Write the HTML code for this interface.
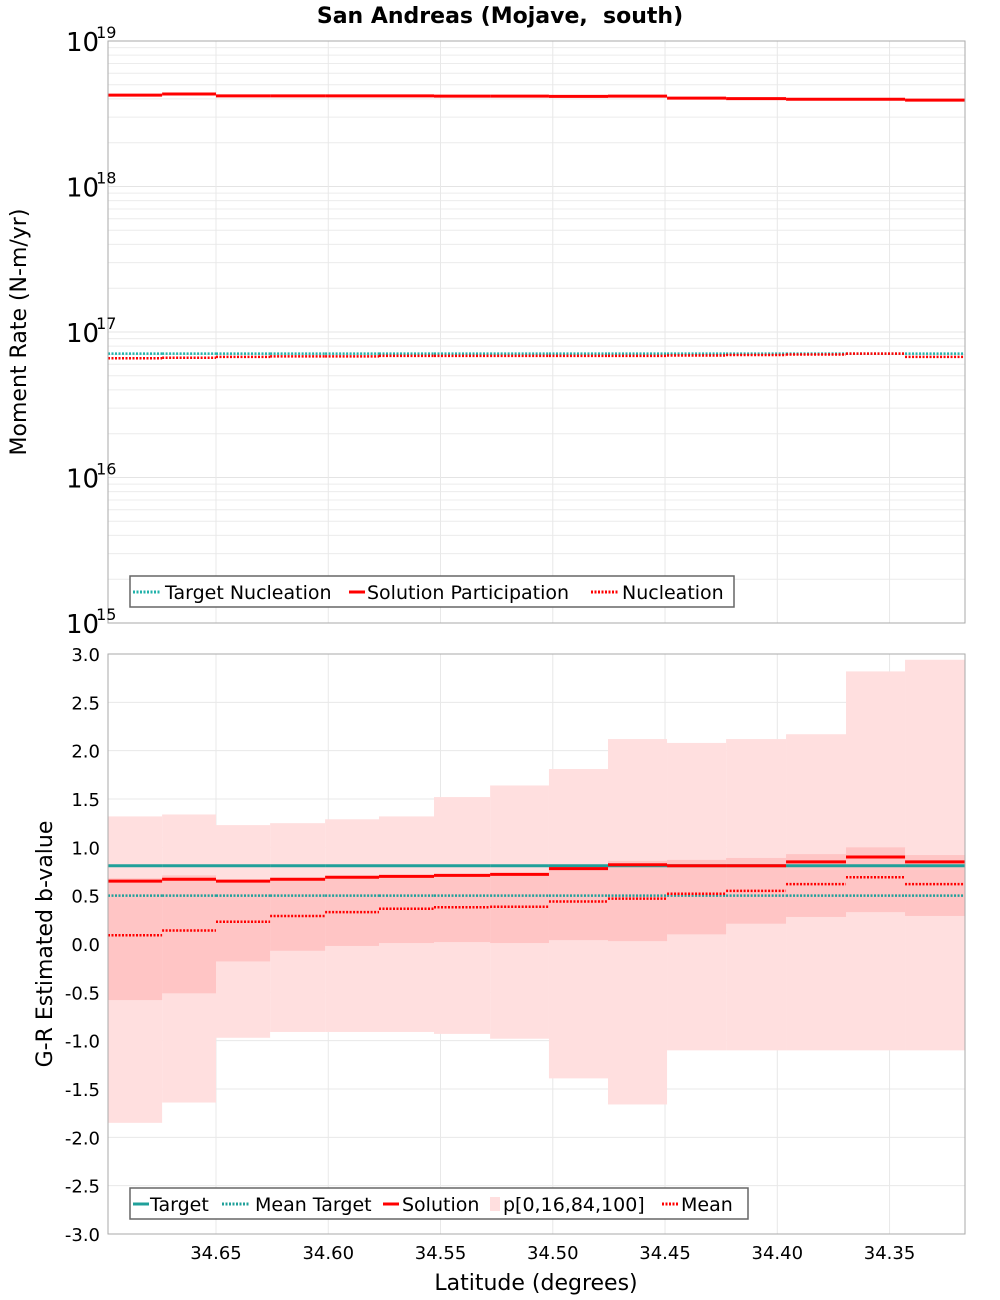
<!DOCTYPE html>
<html><head><meta charset="utf-8">
<style>
html,body{margin:0;padding:0;background:#fff;}
svg{display:block;font-family:"DejaVu Sans","Liberation Sans",sans-serif;}
</style></head>
<body>
<svg id="chart" width="1000" height="1300" viewBox="0 0 1000 1300" xmlns="http://www.w3.org/2000/svg">
<rect width="1000" height="1300" fill="#fff"/>
<text x="500" y="23" text-anchor="middle" font-size="22" font-weight="bold" style="white-space:pre">San Andreas (Mojave,  south)</text>
<g id="topPlot"></g>
<g id="botPlot"></g>
<text transform="translate(26,332) rotate(-90)" text-anchor="middle" font-size="22">Moment Rate (N-m/yr)</text>
<text transform="translate(52,944) rotate(-90)" text-anchor="middle" font-size="22">G-R Estimated b-value</text>
<text x="536" y="1290" text-anchor="middle" font-size="22">Latitude (degrees)</text>
</svg>
<script>
// ---- data ----
const binEdges = [34.6981,34.6740,34.6500,34.6259,34.6014,34.5774,34.5529,34.5279,34.5017,34.4754,34.4491,34.4228,34.3961,34.3694,34.3431,34.3164];
const xTicks = [34.65,34.60,34.55,34.50,34.45,34.40,34.35];
const xTickLabels = ["34.65","34.60","34.55","34.50","34.45","34.40","34.35"];
const targetNucleation = [7.1e16,7.1e16,7.1e16,7.1e16,7.1e16,7.1e16,7.1e16,7.1e16,7.1e16,7.1e16,7.1e16,7.1e16,7.1e16,7.1e16,7.1e16];
const solutionParticipation = [4.25e18,4.32e18,4.2e18,4.2e18,4.2e18,4.2e18,4.18e18,4.18e18,4.16e18,4.18e18,4.05e18,4.02e18,3.98e18,3.98e18,3.92e18];
const nucleation = [6.6e16,6.65e16,6.75e16,6.8e16,6.8e16,6.85e16,6.85e16,6.85e16,6.85e16,6.85e16,6.9e16,6.95e16,7.0e16,7.1e16,6.75e16];
const topDecades = [15,16,17,18,19];
const bTarget = [0.81,0.81,0.81,0.81,0.81,0.81,0.81,0.81,0.81,0.81,0.81,0.81,0.81,0.81,0.81];
const bMeanTarget = [0.50,0.50,0.50,0.50,0.50,0.50,0.50,0.50,0.50,0.50,0.50,0.50,0.50,0.50,0.50];
const bSolution = [0.65,0.67,0.65,0.67,0.69,0.70,0.71,0.72,0.78,0.82,0.81,0.81,0.85,0.90,0.85];
const bMean = [0.09,0.14,0.23,0.29,0.33,0.365,0.38,0.385,0.44,0.47,0.52,0.55,0.62,0.69,0.62];
const bP0 = [-1.85,-1.64,-0.97,-0.91,-0.91,-0.91,-0.93,-0.98,-1.39,-1.66,-1.10,-1.10,-1.10,-1.10,-1.10];
const bP16 = [-0.58,-0.51,-0.18,-0.07,-0.02,0.01,0.02,0.01,0.04,0.03,0.10,0.21,0.28,0.33,0.29];
const bP84 = [0.68,0.71,0.66,0.68,0.70,0.71,0.72,0.73,0.80,0.86,0.87,0.89,0.93,1.00,0.92];
const bP100 = [1.32,1.34,1.23,1.25,1.29,1.32,1.52,1.64,1.81,2.12,2.08,2.12,2.17,2.82,2.94];
const bTicks = [3.0,2.5,2.0,1.5,1.0,0.5,0.0,-0.5,-1.0,-1.5,-2.0,-2.5,-3.0];

// ---- axes ----
const L=108,R=965,LAT0=34.6981,LAT1=34.3164;
const T1=41,B1=623,T2=654,B2=1234;
const NS="http://www.w3.org/2000/svg";
function xS(lat){return L+(LAT0-lat)/(LAT0-LAT1)*(R-L);}
function yTop(v){return B1-(Math.log10(v)-15)/4*(B1-T1);}
function yBot(v){return B2-(v+3)/6*(B2-T2);}
function mk(parent,tag,attrs){const e=document.createElementNS(NS,tag);for(const k in attrs)e.setAttribute(k,attrs[k]);parent.appendChild(e);return e;}
const topG=document.getElementById('topPlot'), botG=document.getElementById('botPlot');

// top grid
for(let d=15;d<19;d++){for(let m=1;m<10;m++){const yy=yTop(m*Math.pow(10,d));
 const g=mk(topG,'line',{x1:L,x2:R,y1:yy,y2:yy,stroke:m==1?'#e4e4e4':'#ececec','stroke-width':1});
 
 }}
xTicks.forEach(t=>{for(const [p,a,b] of [[topG,T1,B1],[botG,T2,B2]]){const g=mk(p,'line',{x1:xS(t),x2:xS(t),y1:a,y2:b,stroke:'#e8e8e8','stroke-width':1});
 
 }});
bTicks.forEach(t=>{const g=mk(botG,'line',{x1:L,x2:R,y1:yBot(t),y2:yBot(t),stroke:'#e8e8e8','stroke-width':1});
 
 });

// step series
function steps(parent,vals,yf,color,w,dash,name){
 vals.forEach((v,i)=>{const e=mk(parent,'line',{x1:xS(binEdges[i]),x2:xS(binEdges[i+1]),y1:yf(v),y2:yf(v),stroke:color,'stroke-width':w});
  if(dash)e.setAttribute('stroke-dasharray',dash);
  
  });
}
steps(topG,targetNucleation,yTop,'#20b2aa',2.5,'2,1.5','target-nucleation-step');
steps(topG,solutionParticipation,yTop,'#ff0000',3,null,'solution-participation-step');
steps(topG,nucleation,yTop,'#ff0000',2.5,'2,1.5','nucleation-step');

// bottom bands
bP0.forEach((v,i)=>{const r=mk(botG,'rect',{x:xS(binEdges[i]),width:xS(binEdges[i+1])-xS(binEdges[i]),y:yBot(bP100[i]),height:yBot(v)-yBot(bP100[i]),fill:'#ffdfdf'});
 
 });
bP16.forEach((v,i)=>{const r=mk(botG,'rect',{x:xS(binEdges[i]),width:xS(binEdges[i+1])-xS(binEdges[i]),y:yBot(bP84[i]),height:yBot(v)-yBot(bP84[i]),fill:'#ffc5c5'});
 
 });
steps(botG,bTarget,yBot,'#20a09a',3,null,'target-step');
steps(botG,bMeanTarget,yBot,'#20a09a',2.5,'2,1.5','mean-target-step');
steps(botG,bSolution,yBot,'#ff0000',3,null,'solution-step');
steps(botG,bMean,yBot,'#ff0000',2.5,'2,1.5','mean-step');

// frames
for(const [p,a,b,n] of [[topG,T1,B1,'top-plot-frame'],[botG,T2,B2,'bottom-plot-frame']]){const f=mk(p,'rect',{x:L,y:a,width:R-L,height:b-a,fill:'none',stroke:'#aaa','stroke-width':1});
 
 }

// top y tick labels
topDecades.forEach(d=>{const yy=yTop(Math.pow(10,d));const t=mk(topG,'text',{x:66,y:yy+10,'font-size':26});
 t.textContent='10';
 
 
 const s=mk(t,'tspan',{dx:-3,dy:-13,'font-size':16});s.textContent=String(d);});
// bottom y tick labels
bTicks.forEach(v=>{const t=mk(botG,'text',{x:100,y:yBot(v)+7,'text-anchor':'end','font-size':18});
 t.textContent=v.toFixed(1);
 
 });
// x tick labels
xTicks.forEach((v,i)=>{const t=mk(botG,'text',{x:xS(v),y:1259,'text-anchor':'middle','font-size':18});
 t.textContent=xTickLabels[i];
 
 });

// legends
function legend(parent,x0,y0,w,items,name){
 const g=mk(parent,'g',{});
 
 
 mk(g,'rect',{x:x0,y:y0,width:w,height:31,fill:'#fff',stroke:'#666','stroke-width':1.5});
 items.forEach(it=>{
  const e=mk(g,'g',{});
  
  
  const cy=y0+16;
  if(it.type==='rect') mk(e,'rect',{x:it.x,y:cy-7,width:10,height:14,fill:'#ffdfdf'});
  else{const l=mk(e,'line',{x1:it.x,x2:it.x+(it.l||28),y1:cy,y2:cy,stroke:it.c,'stroke-width':3});if(it.d)l.setAttribute('stroke-dasharray','2,1.5');}
  const t=mk(e,'text',{x:it.tx,y:cy+7,'font-size':19});t.textContent=it.label;
 });
}
legend(topG,130,576,604,[
 {x:133,tx:165,c:'#20b2aa',d:true,label:'Target Nucleation'},
 {x:349,tx:367,c:'#ff0000',label:'Solution Participation',l:16},
 {x:591,tx:622,c:'#ff0000',d:true,label:'Nucleation'}],'legend-top');
legend(botG,130,1188,618,[
 {x:133,tx:150,c:'#20a09a',label:'Target',l:16},
 {x:222,tx:255,c:'#20a09a',d:true,label:'Mean Target'},
 {x:383,tx:402,c:'#ff0000',label:'Solution',l:16},
 {x:490,tx:503,type:'rect',label:'p[0,16,84,100]'},
 {x:662,tx:681,c:'#ff0000',d:true,label:'Mean',l:16}],'legend-bottom');
</script>
</body></html>
